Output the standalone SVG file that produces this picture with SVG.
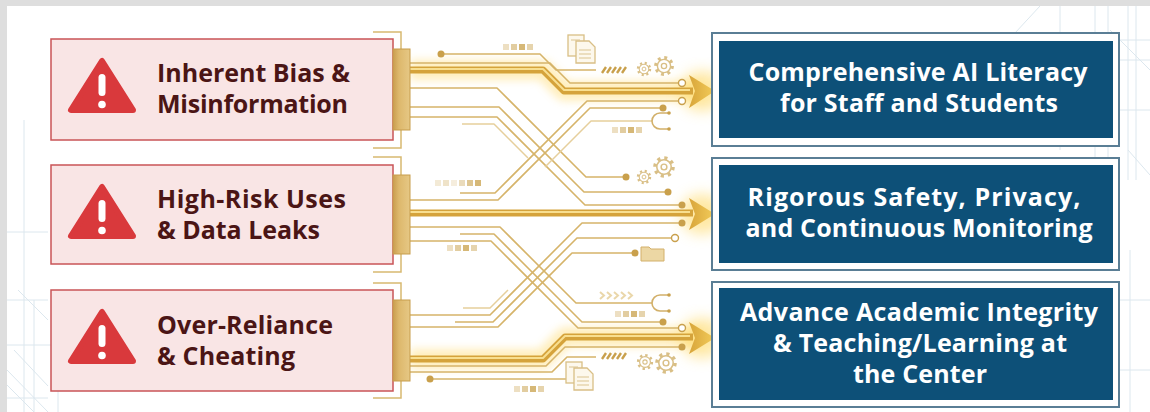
<svg xmlns="http://www.w3.org/2000/svg" width="1150" height="412" viewBox="0 0 1150 412">
  <defs>
    <style>
      .bg-line{fill:none;stroke:#dce7ee;stroke-width:1}
      .risk-box{fill:#f9e5e5;stroke:#c95457;stroke-width:1.5}
      .bracket{fill:none;stroke:#d8b970;stroke-width:1.5}
      .block{fill:url(#blockGrad);stroke:#c79d4d;stroke-width:1}
      .warn{fill:#d9393c;stroke:#d9393c;stroke-width:6;stroke-linejoin:round}
      .bang{fill:#fff}
      .risk-text{font-family:"Open Sans","DejaVu Sans",sans-serif;font-weight:700;font-size:25px;fill:#4b1515}
      .goal-outer{fill:#fff;stroke:#5a7e95;stroke-width:2}
      .goal-inner{fill:#0d5078}
      .goal-text{font-family:"Open Sans","DejaVu Sans",sans-serif;font-weight:700;font-size:25px;fill:#fff;text-anchor:middle}
      .trace{fill:none;stroke:#d6b46a;stroke-width:1.6;stroke-linejoin:round}
      .trace-lt{fill:none;stroke:#e6cf9c;stroke-width:1.5;stroke-linejoin:round}
      .dot{fill:#c9a04c}
      .ring{fill:#fff;stroke:#c9a04c;stroke-width:1.4}
      .shaft{fill:none;stroke:#d5a33b;stroke-width:7;stroke-linejoin:round}
      .shine{fill:none;stroke:#f8df90;stroke-width:2;stroke-linejoin:round}
      .glow{fill:none;stroke:#ffd55a;stroke-width:20;stroke-linejoin:round;opacity:.4;filter:url(#blur)}
      .head-glow{fill:#ffd24a;opacity:.5;filter:url(#blurBig)}
      .head{fill:url(#headGrad)}
      .icon{fill:#fdf8ec;stroke:#d9bf86;stroke-width:1.3}
      .icon-line{fill:none;stroke:#dcc48f;stroke-width:1.1}
      .sq{fill:#d6b877}
      .hatch{fill:none;stroke:#c9a04c;stroke-width:2.4}
      .chev{fill:none;stroke:#ead7aa;stroke-width:2}
    </style>
    <linearGradient id="blockGrad" x1="0" y1="0" x2="1" y2="0">
      <stop offset="0" stop-color="#c99d4e"/>
      <stop offset="0.35" stop-color="#ddb86c"/>
      <stop offset="1" stop-color="#e6c885"/>
    </linearGradient>
    <linearGradient id="headGrad" x1="0" y1="0" x2="1" y2="0">
      <stop offset="0" stop-color="#d8a53a"/>
      <stop offset="1" stop-color="#f3cc5a"/>
    </linearGradient>
    <filter id="blur" x="-10%" y="-100%" width="120%" height="300%">
      <feGaussianBlur stdDeviation="4"/>
    </filter>
    <filter id="blurBig" x="-100%" y="-100%" width="300%" height="300%">
      <feGaussianBlur stdDeviation="7"/>
    </filter>
    <g id="gear">
      <circle r="7.5" fill="none" stroke="#d9bf86" stroke-width="3" stroke-dasharray="2.6 3.29"/>
      <circle r="6" fill="#fff" stroke="#d9bf86" stroke-width="1.3"/>
      <circle r="2.4" fill="none" stroke="#d9bf86" stroke-width="1.2"/>
    </g>
    <g id="hook">
      <path d="M10,-8 H2 A8,8 0 0 0 2,8 H10" fill="none" stroke="#d2b06a" stroke-width="1.6"/>
      <circle cx="11" cy="-8" r="1.8" fill="#c9a04c"/>
      <circle cx="11" cy="8" r="1.8" fill="#c9a04c"/>
    </g>
    <g id="sq4">
      <rect x="0" y="-3" width="6" height="6" class="sq" opacity=".45"/>
      <rect x="8" y="-3" width="6" height="6" class="sq" opacity=".7"/>
      <rect x="16" y="-3" width="6" height="6" class="sq"/>
      <rect x="24" y="-3" width="6" height="6" class="sq" opacity=".6"/>
    </g>
    <g id="doc">
      <rect x="0" y="0" width="16" height="21" class="icon"/>
      <path d="M8,6 H21 L27,12 V28 H8 Z" class="icon"/>
      <path d="M11,15 H23 M11,19 H23 M11,23 H23 M3,5 H12" class="icon-line"/>
    </g>
    <g id="hatch5">
      <path d="M0,3 L4,-3 M5,3 L9,-3 M10,3 L14,-3 M15,3 L19,-3 M20,3 L24,-3" class="hatch"/>
    </g>
  </defs>

  <!-- page -->
  <rect x="0" y="0" width="1150" height="412" fill="#dedede"/>
  <rect x="7" y="6" width="1143" height="406" fill="#ffffff"/>

  <!-- faint blueprint grid -->
  <g id="blueprint">
    <path class="bg-line" d="M1040,6 L990,60 M1060,6 V150 M1095,6 V160 M1108,6 V160 M1128,6 V180 M1136,6 V180 M1060,40 H1150 M1000,60 H1150 M1120,110 H1150 M1128,150 L1150,175 M1110,30 L1150,70"/>
    <path class="bg-line" d="M24,120 V412 M34,300 V412 M58,360 V412 M7,232 H48 M7,300 H48 M7,345 H60 M7,370 L48,412 M7,385 L34,412 M14,350 L48,386 M7,398 H48 M18,290 L48,320 M1130,250 V412 M1120,300 H1150 M1090,370 H1150"/>
  </g>

  <!-- circuit traces and arrows -->
  <g id="connectors">
    <!-- glows under the three main arrows -->
    <path class="glow" d="M410,70 H543 L564,91 H700"/>
    <path class="glow" d="M410,213 H700"/>
    <path class="glow" d="M410,359 H543 L565,337 H700"/>
    <ellipse class="head-glow" cx="702" cy="91" rx="22" ry="20"/>
    <ellipse class="head-glow" cx="702" cy="214" rx="22" ry="20"/>
    <ellipse class="head-glow" cx="702" cy="338" rx="22" ry="20"/>

    <!-- row 1 bundle -->
    <path class="trace" d="M441,54 H540 L556,70 H596"/>
    <circle class="dot" cx="441" cy="54" r="3.5"/>
    <path class="trace" d="M410,63 H550 L570,83 H679"/>
    <circle class="ring" cx="682" cy="83" r="3.5"/>

    <!-- row 1 down to row 2 -->
    <path class="trace" d="M410,88 H497 L586,177 H623"/>
    <circle class="dot" cx="626" cy="177" r="3.5"/>
    <path class="trace" d="M410,107 H499 L584,192 H665"/>
    <circle class="dot" cx="668" cy="192" r="3.5"/>
    <path class="trace" d="M410,117 H497 L585,205 H679"/>
    <circle class="dot" cx="682" cy="205" r="3.5"/>
    <path class="trace-lt" d="M462,124 H494 L528,158"/>

    <!-- row 2 up to row 1 -->
    <path class="trace" d="M460,193 H495 L587,101 H679"/>
    <circle class="ring" cx="682" cy="101" r="3.5"/>
    <path class="trace" d="M410,200 H498 L590,108 H660"/>
    <circle class="dot" cx="663" cy="108" r="3.5"/>
    <path class="trace-lt" d="M545,167 L591,121 H652"/>

    <!-- row 2 down to row 3 -->
    <path class="trace" d="M410,227 H500 L576,303 H652"/>
    <path class="trace" d="M460,234 H494 L582,322 H660"/>
    <circle class="dot" cx="663" cy="322" r="3.5"/>
    <path class="trace" d="M410,241 H491 L578,328 H679"/>
    <circle class="ring" cx="682" cy="328" r="3.5"/>

    <!-- row 3 up to row 2 -->
    <path class="trace-lt" d="M463,308 H490 L508,290"/>
    <path class="trace" d="M410,315 H490 L582,223 H679"/>
    <circle class="dot" cx="682" cy="223" r="3.5"/>
    <path class="trace" d="M455,322 H493 L577,238 H672"/>
    <circle class="ring" cx="675" cy="238" r="3.5"/>
    <path class="trace" d="M410,327 H498 L572,253 H632"/>
    <circle class="dot" cx="635" cy="253" r="3.5"/>

    <!-- row 3 bundle -->
    <path class="trace" d="M410,366 H546 L565,347 H679"/>
    <circle class="dot" cx="682" cy="347" r="3.5"/>
    <path class="trace" d="M410,372 H552 L567,357 H596"/>
    <path class="trace" d="M430,379 H566"/>
    <circle class="dot" cx="430" cy="379" r="3.5"/>

    <!-- main arrows -->
    <path class="shaft" d="M410,70 H543 L564,91 H693"/>
    <path class="shine" d="M410,69 H543 L564,90 H690"/>
    <path class="head" d="M689,75 L715,91 L689,108 L695,91 Z"/>

    <path class="shaft" d="M410,213 H693"/>
    <path class="shine" d="M410,212 H690"/>
    <path class="head" d="M689,198 L715,214 L689,230 L695,214 Z"/>

    <path class="shaft" d="M410,359 H543 L565,337 H693"/>
    <path class="shine" d="M410,358 H543 L565,336 H690"/>
    <path class="head" d="M689,322 L715,338 L689,354 L695,338 Z"/>
  </g>

  <!-- small circuit ornaments -->
  <g id="circuit-icons">
    <use href="#doc" x="568" y="35"/>
    <use href="#doc" x="566" y="362"/>
    <use href="#sq4" x="503" y="47"/>
    <use href="#sq4" x="612" y="130"/>
    <use href="#sq4" x="447" y="248"/>
    <use href="#sq4" x="615" y="314"/>
    <use href="#sq4" x="514" y="389"/>
    <g transform="translate(435,183)">
      <rect x="0" y="-3" width="6" height="6" class="sq" opacity=".3"/>
      <rect x="8" y="-3" width="6" height="6" class="sq" opacity=".4"/>
      <rect x="16" y="-3" width="6" height="6" class="sq" opacity=".25"/>
      <rect x="24" y="-3" width="6" height="6" class="sq" opacity=".5"/>
      <rect x="32" y="-3" width="6" height="6" class="sq" opacity=".8"/>
      <rect x="40" y="-3" width="6" height="6" class="sq"/>
    </g>
    <use href="#hatch5" x="602" y="70"/>
    <use href="#hatch5" x="602" y="356"/>
    <use href="#gear" transform="translate(644,69) scale(0.8)"/>
    <use href="#gear" transform="translate(664,66) scale(1.1)"/>
    <use href="#gear" transform="translate(644,177) scale(0.8)"/>
    <use href="#gear" transform="translate(664,167) scale(1.2)"/>
    <use href="#gear" transform="translate(645,362) scale(0.9)"/>
    <use href="#gear" transform="translate(666,363) scale(1.2)"/>
    <use href="#hook" x="658" y="121"/>
    <use href="#hook" x="658" y="303"/>
    <path d="M641,247 H649 L651,249 H664 V261 H641 Z" fill="#ecd7a4" stroke="#d3b06a" stroke-width="1"/>
    <path class="chev" d="M600,292 l4,3.5 -4,3.5 M607,292 l4,3.5 -4,3.5 M614,292 l4,3.5 -4,3.5 M621,292 l4,3.5 -4,3.5 M628,292 l4,3.5 -4,3.5"/>
  </g>

  <!-- risk nodes -->
  <g id="risk-bias">
    <path class="bracket" d="M373,32 H401 V148 H373"/>
    <rect class="risk-box" x="51" y="39" width="342" height="101"/>
    <rect class="block" x="393" y="49" width="17" height="81"/>
    <path class="warn" d="M102,61 L71,110 L133,110 Z"/>
    <rect class="bang" x="98.5" y="74" width="7" height="22" rx="3.5"/>
    <circle class="bang" cx="102" cy="104.5" r="3.8"/>
    <text class="risk-text" x="157" y="82" textLength="193">Inherent Bias &amp;</text>
    <text class="risk-text" x="157" y="113" textLength="191">Misinformation</text>
  </g>

  <g id="risk-data">
    <path class="bracket" d="M373,157 H401 V272 H373"/>
    <rect class="risk-box" x="51" y="165" width="342" height="99"/>
    <rect class="block" x="393" y="175" width="17" height="79"/>
    <path class="warn" d="M102,187 L71,236 L133,236 Z"/>
    <rect class="bang" x="98.5" y="200" width="7" height="22" rx="3.5"/>
    <circle class="bang" cx="102" cy="230.5" r="3.8"/>
    <text class="risk-text" x="157" y="208" textLength="189">High-Risk Uses</text>
    <text class="risk-text" x="157" y="239" textLength="163">&amp; Data Leaks</text>
  </g>

  <g id="risk-cheating">
    <path class="bracket" d="M373,283 H401 V398 H373"/>
    <rect class="risk-box" x="51" y="290" width="342" height="101"/>
    <rect class="block" x="393" y="300" width="17" height="81"/>
    <path class="warn" d="M102,312 L71,361 L133,361 Z"/>
    <rect class="bang" x="98.5" y="325" width="7" height="22" rx="3.5"/>
    <circle class="bang" cx="102" cy="355.5" r="3.8"/>
    <text class="risk-text" x="157" y="334" textLength="176">Over-Reliance</text>
    <text class="risk-text" x="157" y="365" textLength="138">&amp; Cheating</text>
  </g>

  <!-- goal nodes -->
  <g id="goal-literacy">
    <rect class="goal-outer" x="712" y="33" width="407" height="113"/>
    <rect class="goal-inner" x="719" y="41" width="394" height="97"/>
    <text class="goal-text" x="918" y="81" textLength="339">Comprehensive AI Literacy</text>
    <text class="goal-text" x="919" y="112" textLength="278">for Staff and Students</text>
  </g>

  <g id="goal-safety">
    <rect class="goal-outer" x="712" y="158" width="407" height="112"/>
    <rect class="goal-inner" x="719" y="165" width="394" height="98"/>
    <text class="goal-text" x="914" y="206" textLength="333">Rigorous Safety, Privacy,</text>
    <text class="goal-text" x="919" y="237" textLength="347">and Continuous Monitoring</text>
  </g>

  <g id="goal-integrity">
    <rect class="goal-outer" x="712" y="282" width="407" height="125"/>
    <rect class="goal-inner" x="719" y="288" width="394" height="112"/>
    <text class="goal-text" x="919" y="321" textLength="358">Advance Academic Integrity</text>
    <text class="goal-text" x="920" y="352" textLength="294">&amp; Teaching/Learning at</text>
    <text class="goal-text" x="920" y="383" textLength="134">the Center</text>
  </g>
</svg>
